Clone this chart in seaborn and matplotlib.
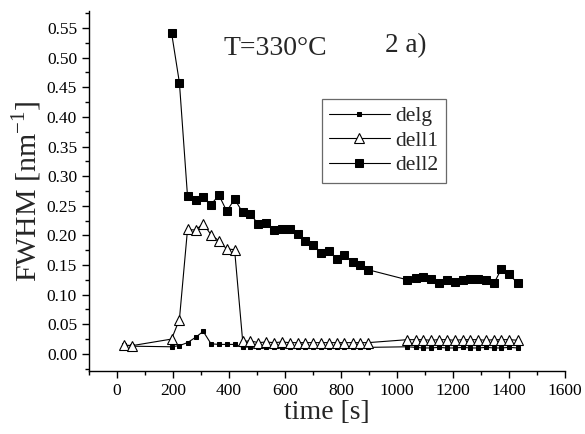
import numpy as np
import pandas as pd
import matplotlib
matplotlib.use("Agg")
import matplotlib.pyplot as plt
from matplotlib.ticker import MultipleLocator
import seaborn as sns

# ---- data ----
t_early = [25, 55]
t_main = [195, 223, 252, 281, 308, 336, 364, 392, 420, 449, 476, 505, 532,
          561, 589, 617, 645, 672, 701, 729, 757, 784, 812, 842, 869, 897]
t_late = [1037, 1066, 1092, 1121, 1149, 1178, 1206, 1235, 1261, 1289, 1318,
          1346, 1372, 1401, 1431]

delg_early = [0.015, 0.013]
delg_main = [0.012, 0.014, 0.019, 0.028, 0.038, 0.017, 0.016, 0.016, 0.016,
             0.011, 0.012, 0.011, 0.012, 0.011, 0.012, 0.011, 0.012, 0.011,
             0.012, 0.011, 0.012, 0.011, 0.011, 0.012, 0.011, 0.011]
delg_late = [0.012, 0.011, 0.010, 0.010, 0.011, 0.010, 0.010, 0.011, 0.010,
             0.010, 0.011, 0.010, 0.010, 0.011, 0.010]

dell1_early = [0.015, 0.014]
dell1_main = [0.025, 0.058, 0.210, 0.209, 0.220, 0.201, 0.191, 0.177, 0.176,
              0.021, 0.022, 0.019, 0.020, 0.019, 0.020, 0.019, 0.019, 0.019,
              0.019, 0.019, 0.019, 0.019, 0.019, 0.019, 0.019, 0.019]
dell1_late = [0.024, 0.024, 0.024, 0.023, 0.024, 0.024, 0.023, 0.024, 0.024,
              0.024, 0.023, 0.024, 0.024, 0.024, 0.023]

dell2_main = [0.542, 0.458, 0.266, 0.259, 0.265, 0.252, 0.268, 0.241, 0.261,
              0.239, 0.236, 0.219, 0.221, 0.209, 0.211, 0.210, 0.203, 0.191,
              0.184, 0.171, 0.174, 0.160, 0.167, 0.155, 0.150, 0.142]
dell2_late = [0.125, 0.128, 0.129, 0.126, 0.119, 0.125, 0.121, 0.125, 0.127,
              0.126, 0.124, 0.119, 0.143, 0.134, 0.119]

x_ticks = [0, 200, 400, 600, 800, 1000, 1200, 1400, 1600]
y_ticks = [0.00, 0.05, 0.10, 0.15, 0.20, 0.25, 0.30, 0.35, 0.40, 0.45, 0.50, 0.55]

t_all = t_early + t_main + t_late
t_d2 = t_main + t_late
delg = pd.DataFrame({"time": t_all, "FWHM": delg_early + delg_main + delg_late})
dell1 = pd.DataFrame({"time": t_all, "FWHM": dell1_early + dell1_main + dell1_late})
dell2 = pd.DataFrame({"time": t_d2, "FWHM": dell2_main + dell2_late})

# ---- style ----
sns.set_style("ticks")
plt.rcParams["font.family"] = ["Liberation Serif", "DejaVu Serif"]
plt.rcParams["mathtext.fontset"] = "custom"
plt.rcParams["mathtext.rm"] = "Liberation Serif"

fig = plt.figure(figsize=(5.85, 4.34), dpi=100)
ax = fig.add_axes([0.152, 0.145, 0.814, 0.830])

common = dict(ax=ax, sort=False, estimator=None, color="black", lw=0.8)
sns.lineplot(data=delg, x="time", y="FWHM", marker="s", ms=3.2, mec="black",
             mfc="black", label="delg", **common)
sns.lineplot(data=dell1, x="time", y="FWHM", marker="^", ms=6.5, mec="black",
             mfc="white", mew=0.8, label="dell1", **common)
sns.lineplot(data=dell2, x="time", y="FWHM", marker="s", ms=5.3, mec="black",
             mfc="black", label="dell2", **common)

ax.set_xlim(-100, 1600)
ax.set_ylim(-0.029, 0.579)
ax.set_xticks(x_ticks)
ax.set_yticks(y_ticks)
ax.set_yticklabels([f"{v:.2f}" for v in y_ticks])
ax.xaxis.set_minor_locator(MultipleLocator(100))
ax.yaxis.set_minor_locator(MultipleLocator(0.025))
ax.tick_params(axis="both", which="major", direction="out", length=5,
               width=1, labelsize=12.5, color="black", labelcolor="black")
ax.tick_params(axis="both", which="minor", direction="out", length=3,
               width=1, color="black")
for s in ["top", "right"]:
    ax.spines[s].set_visible(False)
for s in ["left", "bottom"]:
    ax.spines[s].set_color("black")
    ax.spines[s].set_linewidth(1)

ax.set_xlabel("time [s]", fontsize=20, labelpad=1)
ax.set_ylabel(r"FWHM [nm$^{\mathregular{-1}}$]", fontsize=21.5, labelpad=2)

ax.text(379, 0.504, "T=330°C", fontsize=20, ha="left", va="baseline")
ax.text(957, 0.509, "2 a)", fontsize=19.5, ha="left", va="baseline")

leg = ax.legend(loc="upper left", bbox_to_anchor=(0.489, 0.756), fontsize=15.5,
                frameon=True, fancybox=False, edgecolor="#444444",
                handlelength=2.8, handletextpad=0.25, borderpad=0.35,
                labelspacing=0.2, borderaxespad=0)
leg.get_frame().set_linewidth(0.9)

fig.savefig("out.png", dpi=100)
